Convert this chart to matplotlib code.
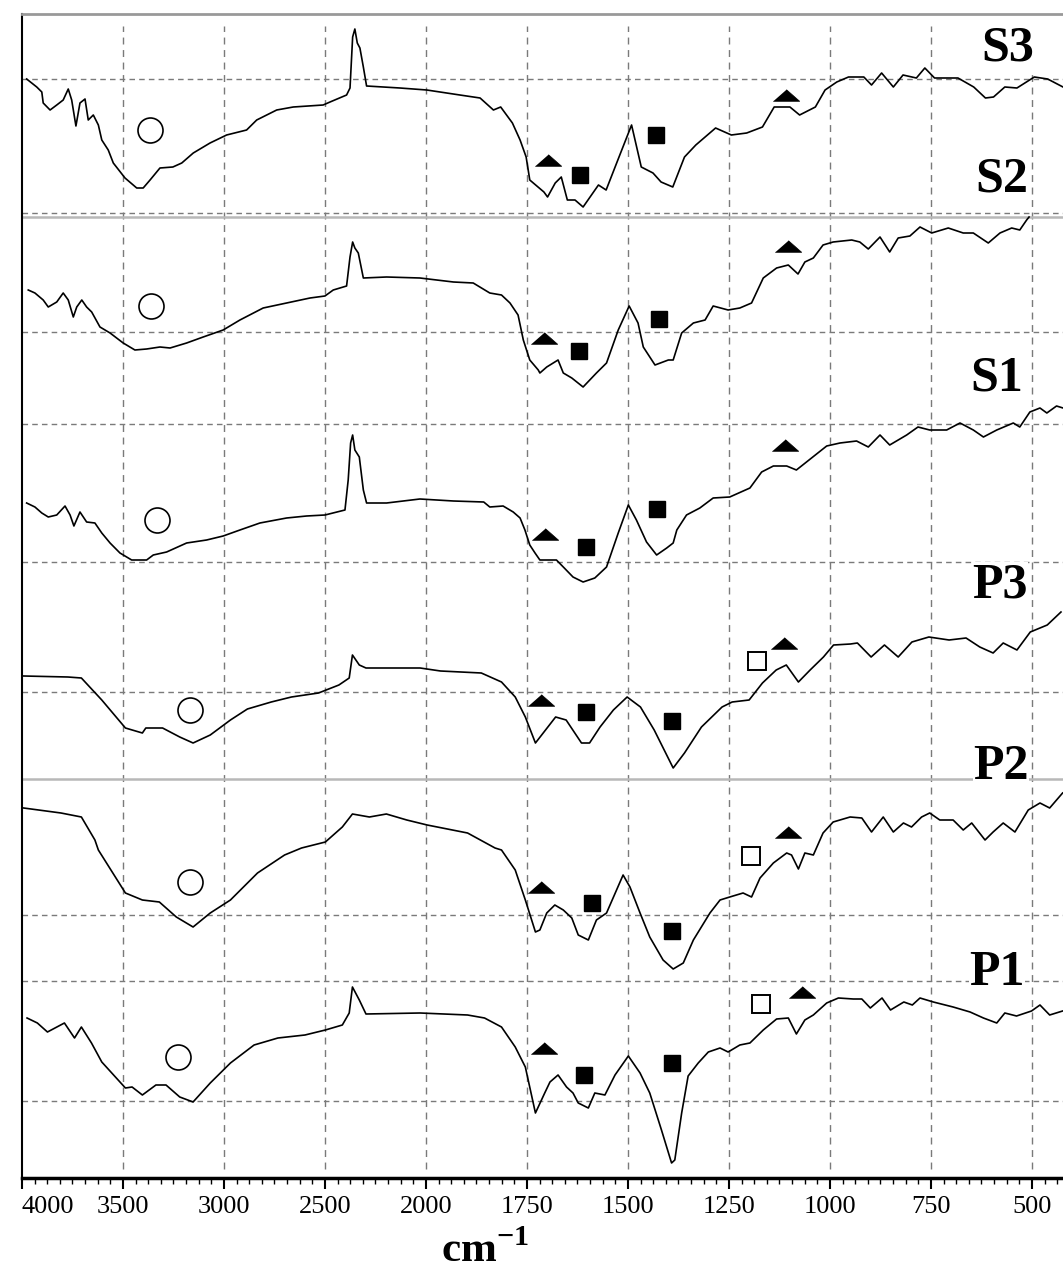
import numpy as np
import matplotlib
matplotlib.use("Agg")
import matplotlib.pyplot as plt

# -----------------------
# Data (wavenumber in cm-1, transmittance in a.u., curves stacked)
# -----------------------
s3_wn = [3977, 3927, 3902, 3895, 3861, 3828, 3796, 3771, 3754, 3733, 3713, 3688, 3672, 3647,
         3622, 3605, 3573, 3548, 3490, 3432, 3400, 3366, 3317, 3253, 3209, 3152, 3069, 2987,
         2888, 2838, 2739, 2657, 2509, 2475, 2393, 2376, 2363, 2352, 2340, 2327, 2310, 2294,
         2129, 1998, 1916, 1866, 1833, 1815, 1786, 1767, 1752, 1743, 1708, 1699, 1680, 1665,
         1650, 1631, 1611, 1573, 1554, 1525, 1491, 1467, 1438, 1418, 1389, 1360, 1332, 1283,
         1244, 1206, 1167, 1138, 1099, 1075, 1036, 1012, 983, 954, 916, 897, 872, 843, 819,
         786, 765, 741, 683, 644, 615, 595, 567, 537, 494, 461, 423]
s3_t = [109.9, 109.1, 108.6, 107.5, 106.8, 107.3, 107.8, 108.9, 107.8, 105.2, 107.5, 107.9,
        105.8, 106.3, 105.3, 103.8, 102.8, 101.5, 100.0, 99.0, 99.0, 99.8, 101.0, 101.1, 101.5,
        102.5, 103.5, 104.3, 104.8, 105.8, 106.8, 107.1, 107.3, 107.6, 108.3, 109.0, 114.1,
        114.9, 113.5, 113.0, 111.1, 109.2, 109.0, 108.8, 108.3, 108.0, 106.8, 107.1, 105.5,
        103.8, 102.1, 99.8, 98.6, 98.1, 99.5, 100.1, 97.8, 97.8, 97.1, 99.3, 98.8, 101.8, 105.3,
        101.1, 100.5, 99.6, 99.1, 102.1, 103.3, 105.0, 104.3, 104.5, 105.1, 107.1, 107.1, 106.3,
        107.1, 108.8, 109.6, 110.1, 110.1, 109.3, 110.5, 109.1, 110.3, 110.0, 111.0, 110.0,
        110.0, 109.1, 108.0, 108.1, 109.1, 109.0, 110.1, 109.9, 109.1]

s2_wn = [3969, 3936, 3895, 3870, 3828, 3796, 3771, 3746, 3729, 3704, 3680, 3655, 3614, 3564,
         3499, 3441, 3383, 3317, 3267, 3185, 3103, 3004, 2921, 2806, 2690, 2574, 2500, 2459,
         2393, 2376, 2363, 2352, 2335, 2310, 2195, 2030, 1932, 1883, 1842, 1813, 1792, 1772,
         1759, 1743, 1722, 1718, 1701, 1673, 1660, 1639, 1611, 1578, 1553, 1524, 1497, 1475,
         1462, 1433, 1400, 1388, 1367, 1338, 1309, 1289, 1252, 1223, 1194, 1165, 1132, 1103,
         1079, 1062, 1041, 1017, 992, 946, 926, 905, 876, 852, 831, 802, 777, 748, 707, 670,
         645, 608, 579, 550, 530, 513, 507]
s2_t = [88.8, 88.5, 87.8, 87.1, 87.6, 88.5, 87.8, 86.1, 87.1, 87.8, 87.1, 86.6, 85.1, 84.5,
        83.5, 82.8, 82.9, 83.1, 83.0, 83.5, 84.1, 84.8, 85.8, 87.0, 87.5, 88.0, 88.2, 88.8,
        89.2, 92.1, 93.6, 93.0, 92.5, 90.0, 90.1, 90.0, 89.6, 89.5, 88.5, 88.3, 87.5, 86.3,
        83.8, 81.8, 80.8, 80.5, 81.1, 81.8, 80.5, 80.0, 79.1, 80.5, 81.5, 84.8, 87.2, 85.5,
        83.1, 81.3, 81.8, 81.8, 84.5, 85.5, 85.8, 87.2, 86.8, 87.0, 87.5, 90.0, 91.0, 91.3,
        90.4, 91.6, 92.0, 93.3, 93.6, 93.8, 93.6, 92.9, 94.1, 92.6, 94.0, 94.2, 95.1, 94.5,
        95.0, 94.5, 94.5, 93.5, 94.5, 95.0, 94.8, 95.8, 96.1]

s1_wn = [3977, 3936, 3902, 3870, 3828, 3787, 3762, 3743, 3713, 3680, 3639, 3605, 3564, 3515,
         3457, 3383, 3350, 3284, 3185, 3086, 3004, 2921, 2822, 2690, 2591, 2500, 2401, 2385,
         2373, 2363, 2352, 2330, 2310, 2294, 2195, 2030, 1932, 1857, 1842, 1809, 1784, 1767,
         1755, 1743, 1730, 1718, 1677, 1660, 1636, 1611, 1582, 1553, 1524, 1499, 1479, 1454,
         1429, 1404, 1388, 1379, 1355, 1322, 1289, 1248, 1198, 1169, 1140, 1107, 1083, 1058,
         1008, 975, 934, 905, 876, 852, 810, 782, 753, 711, 678, 645, 620, 587, 546, 530, 505,
         480, 463, 439, 423]
s1_t = [67.5, 67.1, 66.5, 66.1, 66.3, 67.2, 66.3, 65.2, 66.6, 65.6, 65.5, 64.5, 63.5, 62.5,
        61.8, 61.8, 62.3, 62.6, 63.5, 63.8, 64.2, 64.8, 65.5, 66.0, 66.2, 66.3, 66.8, 69.8,
        73.5, 74.3, 72.8, 72.1, 68.8, 67.5, 67.5, 67.9, 67.7, 67.6, 67.1, 67.2, 66.6, 66.0,
        64.8, 63.3, 62.5, 61.8, 61.8, 61.1, 60.1, 59.6, 60.0, 61.1, 64.5, 67.3, 65.8, 63.6,
        62.3, 63.0, 63.5, 64.8, 66.3, 67.0, 68.0, 68.1, 69.0, 70.6, 71.2, 71.2, 70.8, 71.6,
        73.2, 73.5, 73.7, 73.1, 74.3, 73.3, 74.3, 75.1, 74.8, 74.8, 75.5, 74.8, 74.1, 74.8,
        75.5, 75.1, 76.6, 77.0, 76.5, 77.2, 77.0]

p3_wn = [3992, 3773, 3706, 3605, 3488, 3404, 3387, 3304, 3219, 3153, 3068, 2968, 2884, 2766,
         2666, 2532, 2431, 2380, 2364, 2330, 2297, 2029, 1964, 1863, 1813, 1779, 1754, 1729,
         1704, 1679, 1653, 1615, 1595, 1569, 1536, 1502, 1469, 1435, 1388, 1360, 1318, 1267,
         1242, 1200, 1167, 1133, 1108, 1078, 1049, 1016, 991, 949, 932, 898, 865, 831, 797,
         755, 705, 663, 629, 596, 571, 537, 504, 462, 428]
p3_t = [50.2, 50.1, 50.0, 47.8, 45.0, 44.5, 45.0, 45.0, 44.1, 43.5, 44.3, 45.8, 46.9, 47.6,
        48.1, 48.5, 49.3, 50.0, 52.3, 51.3, 51.0, 51.0, 50.7, 50.5, 49.6, 48.1, 46.1, 43.5,
        44.8, 46.1, 45.8, 43.5, 43.5, 45.1, 46.8, 48.1, 47.1, 44.8, 41.0, 42.5, 45.1, 47.1,
        47.6, 47.8, 49.5, 50.8, 51.3, 49.6, 50.8, 52.1, 53.3, 53.4, 53.5, 52.1, 53.3, 52.1,
        53.6, 54.1, 53.8, 54.0, 53.1, 52.5, 53.5, 52.8, 54.6, 55.3, 56.6]

p2_wn = [3992, 3807, 3706, 3639, 3622, 3488, 3404, 3320, 3236, 3153, 3068, 2968, 2834, 2700,
         2616, 2498, 2414, 2364, 2280, 2196, 2095, 1997, 1897, 1829, 1813, 1779, 1754, 1729,
         1718, 1701, 1681, 1660, 1639, 1623, 1598, 1578, 1553, 1512, 1495, 1470, 1446, 1413,
         1388, 1363, 1338, 1297, 1272, 1248, 1215, 1194, 1173, 1140, 1107, 1095, 1078, 1062,
         1041, 1017, 992, 950, 921, 897, 868, 843, 818, 798, 773, 753, 728, 695, 670, 649,
         616, 596, 571, 542, 509, 480, 456, 424]
p2_t = [37.0, 36.5, 36.1, 33.8, 32.8, 28.5, 27.8, 27.6, 26.1, 25.1, 26.5, 27.8, 30.5, 32.3,
        33.0, 33.6, 35.1, 36.4, 36.1, 36.4, 35.8, 35.3, 34.5, 33.0, 32.8, 30.8, 27.8, 24.6,
        24.8, 26.5, 27.3, 26.8, 26.0, 24.3, 23.8, 25.8, 26.5, 30.3, 29.1, 26.5, 24.1, 21.8,
        20.9, 21.5, 23.8, 26.5, 27.8, 28.1, 28.5, 28.1, 30.0, 31.5, 32.5, 32.3, 30.9, 32.5,
        32.3, 34.5, 35.6, 36.1, 36.0, 34.6, 36.1, 34.6, 35.5, 35.1, 36.1, 36.5, 35.8, 35.8,
        34.8, 35.5, 33.8, 34.6, 35.5, 34.6, 36.8, 37.5, 37.0, 38.5]

p1_wn = [3975, 3924, 3874, 3790, 3740, 3706, 3656, 3605, 3488, 3455, 3404, 3337, 3287, 3219,
         3153, 3068, 2968, 2851, 2733, 2599, 2498, 2414, 2380, 2364, 2330, 2297, 2029, 1897,
         1855, 1813, 1779, 1754, 1729, 1706, 1693, 1673, 1652, 1636, 1623, 1598, 1582, 1557,
         1532, 1499, 1470, 1446, 1417, 1392, 1384, 1367, 1351, 1326, 1301, 1272, 1252, 1223,
         1198, 1165, 1132, 1103, 1083, 1062, 1041, 1008, 979, 942, 921, 900, 871, 850, 817,
         796, 777, 744, 695, 653, 620, 587, 567, 538, 501, 480, 456, 424]
p1_t = [16.0, 15.5, 14.6, 15.5, 14.0, 15.1, 13.5, 11.6, 9.0, 9.1, 8.3, 9.3, 9.3, 8.1, 7.6,
        9.5, 11.5, 13.3, 14.0, 14.3, 14.8, 15.3, 16.5, 19.1, 17.8, 16.4, 16.5, 16.3, 16.0,
        15.1, 13.1, 11.1, 6.5, 8.5, 9.6, 10.3, 9.1, 8.5, 7.5, 7.0, 8.5, 8.3, 10.3, 12.2, 10.5,
        8.5, 4.8, 1.5, 1.8, 6.5, 10.2, 11.5, 12.6, 13.0, 12.6, 13.3, 13.5, 14.8, 15.9, 16.0,
        14.4, 15.8, 16.3, 17.5, 18.0, 17.9, 17.9, 17.0, 18.0, 16.8, 17.6, 17.3, 18.0, 17.6,
        17.1, 16.6, 16.0, 15.5, 16.5, 16.2, 16.7, 17.3, 16.3, 16.7]

names = ["S3", "S2", "S1", "P3", "P2", "P1"]
label_wn = [560, 574, 587, 579, 577, 587]
label_t = [113.0, 99.9, 80.0, 59.3, 41.1, 20.5]

# band markers
circle_wn = [3366, 3361, 3330, 3169, 3169, 3230]
circle_t = [104.8, 87.2, 65.8, 46.8, 29.6, 12.1]
tri_wn = [1699, 1109, 1708, 1103, 1706, 1110, 1716, 1114, 1715, 1103, 1709, 1068]
tri_t = [101.8, 108.3, 84.0, 93.2, 64.4, 73.3, 47.8, 53.5, 29.1, 34.6, 13.0, 18.6]
sq_wn = [1619, 1430, 1621, 1423, 1605, 1429, 1604, 1390, 1590, 1390, 1610, 1392]
sq_t = [100.3, 104.3, 82.7, 85.9, 63.1, 66.9, 46.6, 45.7, 27.5, 24.7, 10.3, 11.5]
osq_wn = [1180, 1195, 1171]
osq_t = [51.7, 32.2, 17.4]

major_ticks = [4000, 3500, 3000, 2500, 2000, 1750, 1500, 1250, 1000, 750, 500]
grid_t = [109.9, 96.5, 84.6, 75.4, 61.6, 48.6, 26.3, 19.7, 7.7]
sep_t = [96.1, 39.9]

# -----------------------
# Axis scale: 500 cm-1 per division above 2000, 250 below
# -----------------------
def forward(w):
    w = np.asarray(w, dtype=float)
    return np.where(w >= 2000, (w - 2000) / 500.0, (w - 2000) / 250.0)

def inverse(u):
    u = np.asarray(u, dtype=float)
    return np.where(u >= 0, 2000 + 500.0 * u, 2000 + 250.0 * u)

plt.rcParams["font.family"] = ["Liberation Serif", "DejaVu Serif"]
plt.rcParams["mathtext.fontset"] = "custom"
plt.rcParams["mathtext.rm"] = "Liberation Serif"
plt.rcParams["mathtext.bf"] = "Liberation Serif:bold"

fig = plt.figure(figsize=(10.63, 12.72), dpi=100)
ax = fig.add_axes([22 / 1063, 94 / 1272, 1 - 22 / 1063, (1178 - 14) / 1272])
ax.set_xscale("function", functions=(forward, inverse))
ax.set_xlim(4000, 423)
ax.set_ylim(0, 116.4)

# grid
for t in major_ticks[1:]:
    ax.axvline(t, ymin=0.008, ymax=0.99, color="#7a7a7a", lw=1.0,
               ls=(0, (5, 4)), zorder=1)
for y in grid_t:
    ax.axhline(y, color="#7a7a7a", lw=1.0, ls=(0, (4, 3)), zorder=1)
for y in sep_t:
    ax.axhline(y, color="#b8b8b8", lw=1.8, zorder=1)

# spectra
series = [(s3_wn, s3_t), (s2_wn, s2_t), (s1_wn, s1_t),
          (p3_wn, p3_t), (p2_wn, p2_t), (p1_wn, p1_t)]
for wn, t in series:
    ax.plot(wn, t, color="black", lw=1.2, zorder=3)

# markers
tri = [(-1, -0.44), (1, -0.44), (0, 0.44)]
ax.plot(circle_wn, circle_t, ls="none", marker="o", ms=18, mfc="white",
        mec="black", mew=1.2, zorder=4)
ax.plot(tri_wn, tri_t, ls="none", marker=tri, ms=19, mfc="black",
        mec="black", mew=0.5, zorder=4)
ax.plot(sq_wn, sq_t, ls="none", marker="s", ms=11, mfc="black",
        mec="black", zorder=4)
ax.plot(osq_wn, osq_t, ls="none", marker="s", ms=12.5, mfc="white",
        mec="black", mew=1.4, zorder=4)

# sample labels
for name, w, t in zip(names, label_wn, label_t):
    ax.text(w, t, name, fontsize=36, fontweight="bold", ha="center", va="center",
            bbox=dict(facecolor="white", edgecolor="none", pad=0), zorder=5)

# axes styling
ax.set_xticks(major_ticks)
ax.set_xticklabels([str(v) for v in major_ticks], fontsize=19)
ax.get_xticklabels()[0].set_horizontalalignment("left")
minor = list(np.arange(4000, 2000, -62.5)) + list(np.arange(2000, 420, -31.25))
ax.set_xticks(minor, minor=True)
ax.tick_params(axis="x", which="major", direction="out", length=8, width=1.5, pad=5)
ax.tick_params(axis="x", which="minor", direction="out", length=4, width=1.0)
ax.set_yticks([])
ax.spines["right"].set_visible(False)
ax.spines["top"].set_color("#999999")
ax.spines["top"].set_linewidth(2)
ax.spines["left"].set_linewidth(1.5)
ax.spines["bottom"].set_linewidth(2.5)

ax.set_xlabel("$\\mathbf{cm}^{\\mathbf{-1}}$", fontsize=31)
ax.xaxis.set_label_coords(0.445, -0.046)

fig.savefig("out.png", dpi=100)
